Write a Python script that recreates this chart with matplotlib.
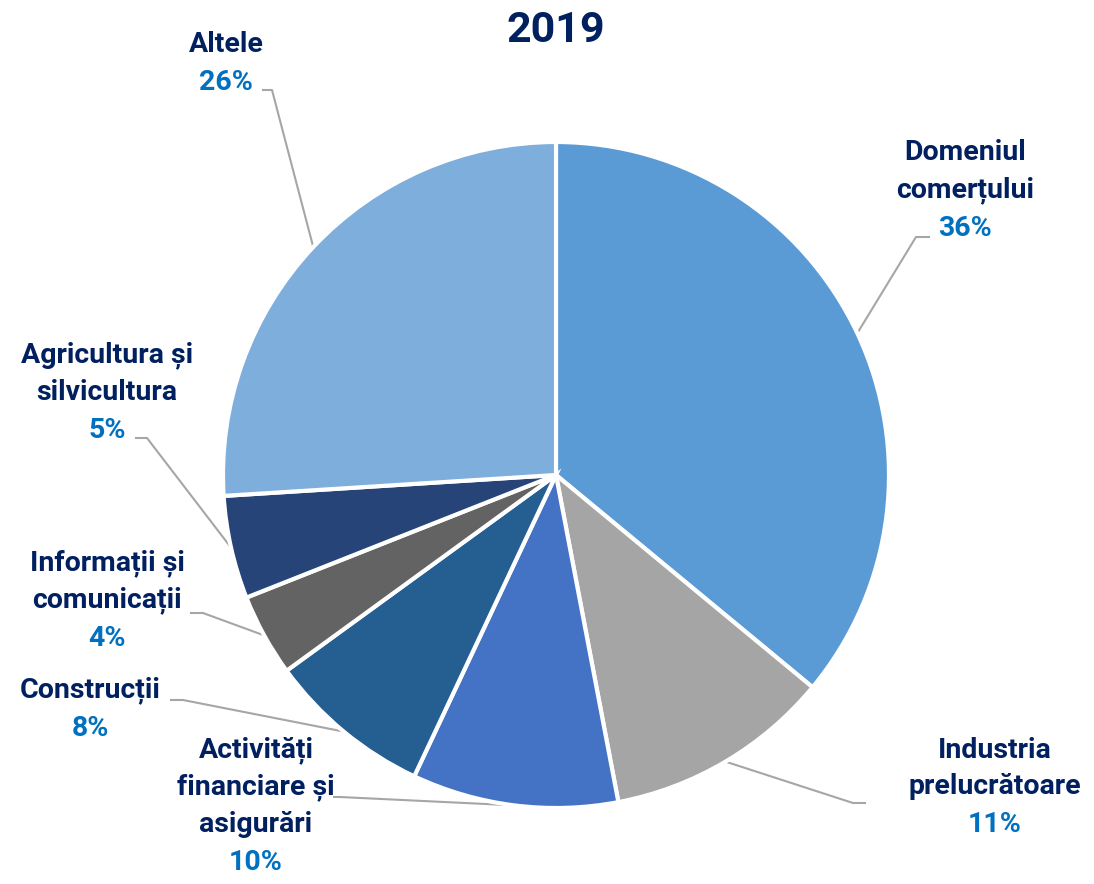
import numpy as np
import matplotlib
matplotlib.use("Agg")
import matplotlib.pyplot as plt

# ---- data ----
title = "2019"
categories = ["Domeniul\ncomerțului", "Industria\nprelucrătoare",
              "Activități\nfinanciare și\nasigurări", "Construcții",
              "Informații și\ncomunicații", "Agricultura și\nsilvicultura", "Altele"]
values = [36, 11, 10, 8, 4, 5, 26]
pct_labels = ["36%", "11%", "10%", "8%", "4%", "5%", "26%"]
colors = ["#5B9BD5", "#A5A5A5", "#4472C4", "#255E91", "#636363", "#264478", "#7DAEDC"]

W, H = 1094, 884
fig = plt.figure(figsize=(W / 100, H / 100), dpi=100)
ax = fig.add_axes([0, 0, 1, 1])
ax.set_xlim(0, W)
ax.set_ylim(0, H)
ax.set_aspect("equal")
ax.axis("off")

def Y(py):
    return H - py

cx, cy, R = 556, Y(475), 333
wedges, _ = ax.pie(values, colors=colors, startangle=90, counterclock=False,
                   center=(cx, cy), radius=R, frame=True,
                   wedgeprops=dict(edgecolor="white", linewidth=3))
ax.set_xlim(0, W)
ax.set_ylim(0, H)
ax.axis("off")

FONT = "Roboto"
navy = "#002060"
blue = "#0070C0"
fs = 20.5
lh = 37  # line height in px

# label layout: (center x, top line y in px, elbow point, label-side end of horizontal)
layout = [
    (965, 153, (916, 237), (930, 237)),
    (995, 750, (853, 803), (866, 803)),
    (256, 750, (340, 797), (333, 797)),
    (90, 690, (183, 700), (170, 700)),
    (107, 563, (203, 613), (190, 613)),
    (107, 355, (147, 438), (135, 438)),
    (226, 45, (272, 90), (262, 90)),
]

angles = []
start = 90.0
total = sum(values)
for v in values:
    span = v / total * 360
    angles.append(start - span / 2)
    start -= span

for cat, pl, (lx, ly, elbow, hend), ang in zip(categories, pct_labels, layout, angles):
    lines = cat.split("\n")
    for i, ln in enumerate(lines):
        ax.text(lx, Y(ly + i * lh), ln, ha="center", va="center", fontsize=fs,
                fontweight="bold", color=navy, family=FONT)
    ax.text(lx, Y(ly + len(lines) * lh + 1), pl, ha="center", va="center", fontsize=fs,
            fontweight="bold", color=blue, family=FONT)
    a = np.deg2rad(ang)
    px, py = cx + R * np.cos(a), cy + R * np.sin(a)
    ax.plot([hend[0], elbow[0], px], [Y(hend[1]), Y(elbow[1]), py],
            color="#A6A6A6", lw=1.5, solid_capstyle="butt", zorder=0.5)

ax.text(556, Y(30), title, ha="center", va="center", fontsize=31,
        fontweight="bold", color=navy, family=FONT)

fig.savefig("out.png", dpi=100)
